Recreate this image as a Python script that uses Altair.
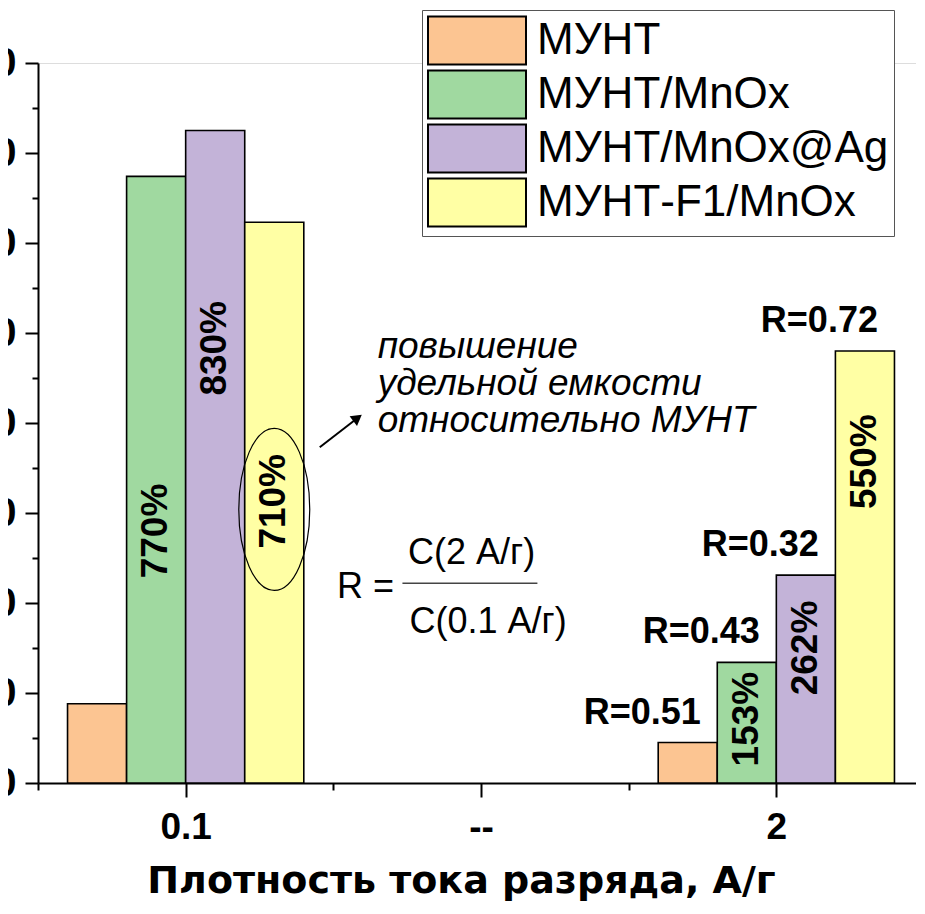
import altair as alt
import pandas as pd

# ---------------- data ----------------
series = ["МУНТ", "МУНТ/MnOx", "МУНТ/MnOx@Ag", "МУНТ-F1/MnOx"]
colors = ["#FCC592", "#A0D9A0", "#C3B3D8", "#FFFFA4"]
cat_labels = ["0.1", "--", "2"]          # x positions 0, 1, 2 ("--" is an empty slot)
cap_01 = [88, 674, 725, 623]              # capacitance at 0.1 A/g
cap_2 = [45, 134, 231, 480]               # capacitance at 2 A/g
pct_01 = ["", "770%", "830%", "710%"]
pct_2 = ["", "153%", "262%", "550%"]
r_2 = ["R=0.51", "R=0.43", "R=0.32", "R=0.72"]
# where (in y units) the rotated percentage labels sit inside the bars
pct_at_01 = [0, 280, 483, 313]
pct_at_2 = [0, 71, 150, 357]

y_ticks = list(range(0, 801, 50))
x_ticks = [-0.5, 0, 0.5, 1, 1.5, 2, 2.5]

rows = []
for cat, caps, pcts, pat in [(0, cap_01, pct_01, pct_at_01), (2, cap_2, pct_2, pct_at_2)]:
    for i, s in enumerate(series):
        rows.append({"cat": cat, "s": i, "series": s, "value": caps[i],
                     "pct": pcts[i], "pct_at": pat[i],
                     "r": r_2[i] if cat == 2 else ""})
df = pd.DataFrame(rows)

FONT = "Liberation Sans"
label_expr = " : ".join(
    [f"datum.value === {i} ? '{t}'" for i, t in enumerate(cat_labels)]) + " : ''"

x_scale = alt.Scale(domain=[-0.5, 2.5], nice=False, zero=False)
y_scale = alt.Scale(domain=[0, 800], nice=False)

x_axis = alt.Axis(
    values=x_ticks, labelExpr=label_expr, title="Плотность тока разряда, А/г",
    tickSize={"condition": {"test": "datum.value % 1 === 0", "value": 14}, "value": 7},
    labelFont=FONT, labelFontSize=37, labelFontWeight="bold", labelColor="black",
    labelPadding=12, labelOverlap=False, labelFlush=False, labelBound=False,
    titleFont="DejaVu Sans", titleFontSize=38, titleFontWeight="bold", titleColor="black",
    titleX=423, titleY=109, titleBaseline="alphabetic", titleAlign="center",
    titleLimit=0,
    domainColor="black", domainWidth=2, tickColor="black", tickWidth=2, grid=False)

y_axis = alt.Axis(
    values=y_ticks, labelExpr="datum.value % 100 === 0 ? datum.label : ''",
    tickSize={"condition": {"test": "datum.value % 100 === 0", "value": 13}, "value": 6},
    labelFont=FONT, labelFontSize=40, labelFontWeight="bold", labelColor="black",
    labelPadding=9, labelOverlap=False, labelFlush=False, labelBound=False,
    title=None, domainColor="black", domainWidth=2, tickColor="black", tickWidth=2, grid=False)

# swatch 98 x 48 px drawn to the right of the symbol anchor
rect_path = "M-1,-0.98L3,-0.98L3,0.98L-1,0.98Z"
legend = alt.Legend(
    orient="none", legendX=384, legendY=-53, title=None,
    symbolType=rect_path, symbolSize=2401, symbolStrokeColor="black",
    symbolStrokeWidth=2, symbolOpacity=1,
    labelFont=FONT, labelFontSize=44, labelColor="black", labelOffset=59, labelLimit=0,
    rowPadding=-3, padding=5, strokeColor="#555555", fillColor="white")

base = alt.Chart(df).transform_calculate(
    xc="datum.cat + (datum.s - 1.5) * 0.2",
    x0="datum.cat + (datum.s - 1.5) * 0.2 - 0.1",
    x1="datum.cat + (datum.s - 1.5) * 0.2 + 0.1",
)

bars = base.mark_bar(stroke="black", strokeWidth=1.6).encode(
    x=alt.X("x0:Q", scale=x_scale, axis=x_axis),
    x2="x1:Q",
    y=alt.Y("value:Q", scale=y_scale, axis=y_axis),
    y2=alt.datum(0),
    color=alt.Color("series:N", scale=alt.Scale(domain=series, range=colors),
                    legend=legend, sort=series),
)

pct_text = base.transform_filter("datum.pct != ''").mark_text(
    angle=270, font=FONT, fontSize=37, fontWeight="bold", color="black",
    baseline="middle", align="center").encode(
    x=alt.X("xc:Q", scale=x_scale),
    y=alt.Y("pct_at:Q", scale=y_scale),
    text="pct:N")

r_text = base.transform_filter("datum.r != ''").mark_text(
    font=FONT, fontSize=36, fontWeight="bold", color="black",
    baseline="alphabetic", align="right", dx=13, dy=-19).encode(
    x=alt.X("xc:Q", scale=x_scale),
    y=alt.Y("value:Q", scale=y_scale),
    text="r:N")

# ---------------- annotations (data coordinates) ----------------
ann_ellipse = pd.DataFrame({"x": [0.3], "y": [304]})
ellipse_path = "M0,-1A0.438,1 0 1,1 0,1A0.438,1 0 1,1 0,-1Z"
ellipse = alt.Chart(ann_ellipse).mark_point(
    shape=ellipse_path, size=26244, filled=False, stroke="black",
    strokeWidth=1.2, opacity=1).encode(
    x=alt.X("x:Q", scale=x_scale),
    y=alt.Y("y:Q", scale=y_scale))

ann_arrow = pd.DataFrame({"x": [0.454], "y": [373], "x2": [0.582], "y2": [405.6]})
arrow_line = alt.Chart(ann_arrow).mark_rule(color="black", strokeWidth=2).encode(
    x=alt.X("x:Q", scale=x_scale),
    y=alt.Y("y:Q", scale=y_scale),
    x2="x2:Q", y2="y2:Q")
arrow_head = alt.Chart(ann_arrow).mark_point(
    shape="triangle-up", size=150, filled=True, color="black", angle=53, opacity=1).encode(
    x=alt.X("x2:Q", scale=x_scale),
    y=alt.Y("y2:Q", scale=y_scale))

note_lines = "повышение\nудельной емкости\nотносительно МУНТ"
ann_note = pd.DataFrame({"x": [0.650], "y": [472], "t": [note_lines]})
note = alt.Chart(ann_note).mark_text(
    font=FONT, fontSize=37, fontStyle="italic", color="black", align="left",
    baseline="alphabetic", lineBreak="\n", lineHeight=37).encode(
    x=alt.X("x:Q", scale=x_scale),
    y=alt.Y("y:Q", scale=y_scale),
    text="t:N")

ann_formula = pd.DataFrame({
    "x": [0.609, 0.968, 1.024],
    "y": [218, 256, 179],
    "t": ["R =", "C(2 А/г)", "C(0.1 А/г)"]})
formula = alt.Chart(ann_formula).mark_text(
    font=FONT, fontSize=36, color="black", align="center", baseline="middle").encode(
    x=alt.X("x:Q", scale=x_scale),
    y=alt.Y("y:Q", scale=y_scale),
    text="t:N")

ann_frac = pd.DataFrame({"x": [0.734], "x2": [1.191], "y": [222]})
frac_line = alt.Chart(ann_frac).mark_rule(color="#444444", strokeWidth=1.5).encode(
    x=alt.X("x:Q", scale=x_scale),
    x2="x2:Q",
    y=alt.Y("y:Q", scale=y_scale))

chart = alt.layer(
    bars, pct_text, r_text, ellipse, arrow_line, arrow_head, note, formula, frac_line
).properties(
    width=886, height=720,
    autosize=alt.AutoSizeParams(type="none"),
    padding={"left": 30, "top": 55, "right": -8, "bottom": 118},
).configure_view(stroke="white", strokeWidth=0, strokeOpacity=0, fill="white").configure_axis(
    grid=False).configure(background="white")

chart.save("out.html", embed_options={"renderer": "svg", "actions": False})
